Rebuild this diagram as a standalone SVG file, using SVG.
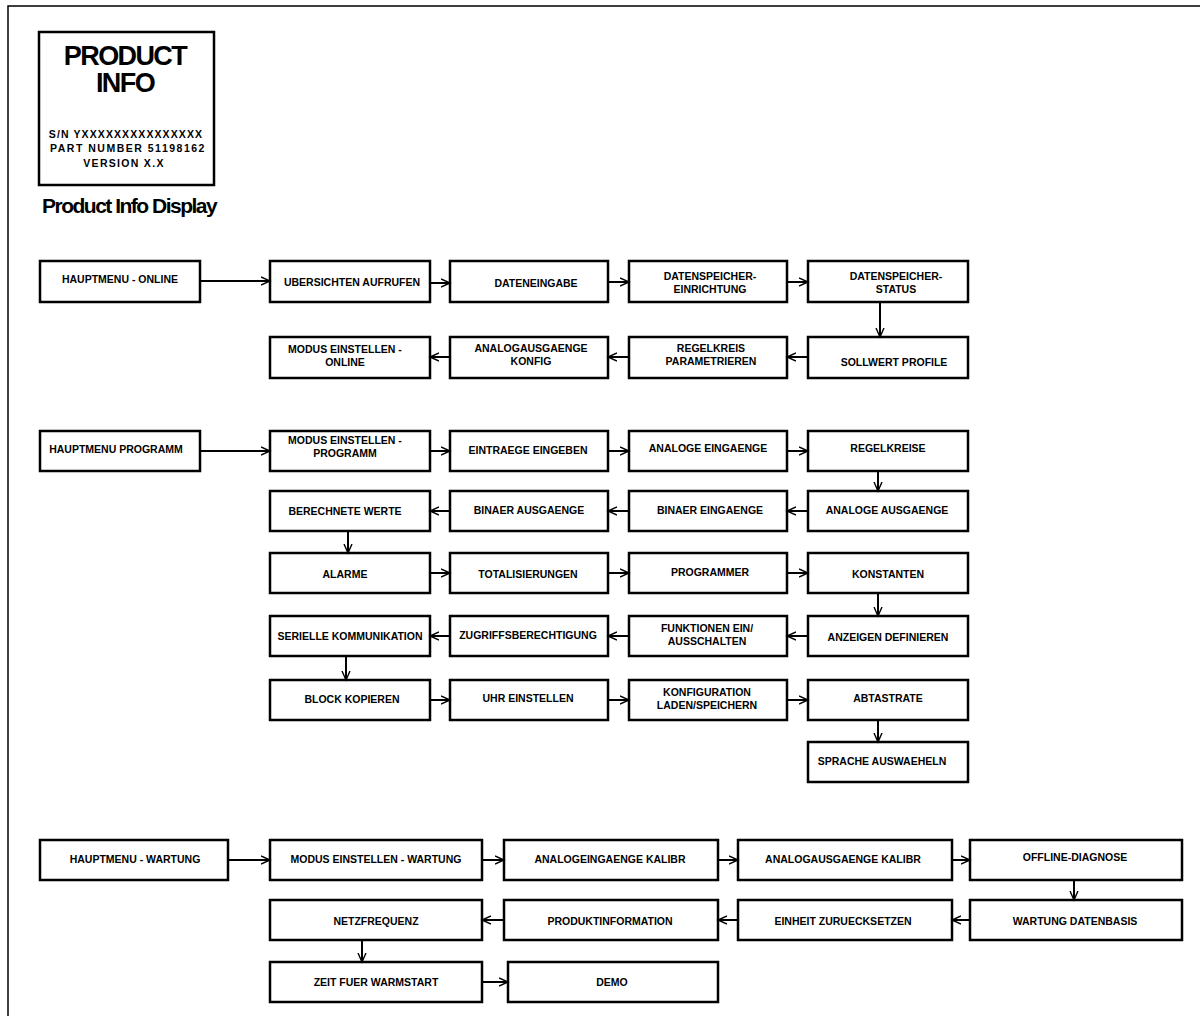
<svg xmlns="http://www.w3.org/2000/svg" width="1200" height="1016" viewBox="0 0 1200 1016">
<defs>
<style>
.frame{fill:none;stroke:#000;stroke-width:1.5}
.box{fill:#fff;stroke:#000;stroke-width:2.5}
.lbl{font-family:"Liberation Sans",Arial,sans-serif;font-weight:bold;font-size:10.5px;text-anchor:middle;fill:#000}
.conn line{stroke:#000;stroke-width:2;fill:none;marker-end:url(#ah)}
.title{font-family:"Liberation Sans",Arial,sans-serif;font-weight:bold;fill:#000}
</style>
<marker id="ah" markerWidth="11" markerHeight="11" refX="9" refY="5" orient="auto" markerUnits="userSpaceOnUse">
<path d="M0,1 L9,5 L0,9" fill="none" stroke="#000" stroke-width="1.4"/>
</marker>
</defs>
<rect width="1200" height="1016" fill="#fff"/>
<rect class="frame" x="8" y="6" width="1200" height="1020"/>

<g id="product-info">
<rect class="box" x="39" y="32" width="175" height="153" stroke-width="2"/>
<text class="title" x="125" y="65" font-size="27" letter-spacing="-1.6" text-anchor="middle">PRODUCT</text>
<text class="title" x="125" y="92" font-size="27" letter-spacing="-1.6" text-anchor="middle">INFO</text>
<text class="title" x="126" y="138" font-size="10.5" letter-spacing="1.1" text-anchor="middle">S/N YXXXXXXXXXXXXXXX</text>
<text class="title" x="128" y="152" font-size="10.5" letter-spacing="1.5" text-anchor="middle">PART NUMBER 51198162</text>
<text class="title" x="124" y="167" font-size="10.5" letter-spacing="1.3" text-anchor="middle">VERSION X.X</text>
</g>
<text id="product-info-caption" class="title" x="42" y="213" font-size="21" letter-spacing="-1.5">Product Info Display</text>

<!-- Section 1 -->
<g id="n-hauptmenu-online"><rect class="box" x="40" y="261" width="160" height="41"/><text class="lbl" x="120" y="283">HAUPTMENU - ONLINE</text></g>
<g id="n-uebersichten"><rect class="box" x="270" y="261" width="160" height="41"/><text class="lbl" x="352" y="286">UBERSICHTEN AUFRUFEN</text></g>
<g id="n-dateneingabe"><rect class="box" x="450" y="261" width="158" height="41"/><text class="lbl" x="536" y="287">DATENEINGABE</text></g>
<g id="n-ds-einrichtung"><rect class="box" x="629" y="261" width="158" height="41"/><text class="lbl" x="710" y="280">DATENSPEICHER-</text><text class="lbl" x="710" y="293">EINRICHTUNG</text></g>
<g id="n-ds-status"><rect class="box" x="808" y="261" width="160" height="41"/><text class="lbl" x="896" y="280">DATENSPEICHER-</text><text class="lbl" x="896" y="293">STATUS</text></g>
<g id="n-sollwert"><rect class="box" x="808" y="337" width="160" height="41"/><text class="lbl" x="894" y="366">SOLLWERT PROFILE</text></g>
<g id="n-regelkreis-param"><rect class="box" x="629" y="337" width="158" height="41"/><text class="lbl" x="711" y="352">REGELKREIS</text><text class="lbl" x="711" y="365">PARAMETRIEREN</text></g>
<g id="n-analogausg-konfig"><rect class="box" x="450" y="337" width="158" height="41"/><text class="lbl" x="531" y="352">ANALOGAUSGAENGE</text><text class="lbl" x="531" y="365">KONFIG</text></g>
<g id="n-modus-online"><rect class="box" x="270" y="337" width="160" height="41"/><text class="lbl" x="345" y="353">MODUS EINSTELLEN -</text><text class="lbl" x="345" y="366">ONLINE</text></g>

<!-- Section 2 -->
<g id="n-hauptmenu-programm"><rect class="box" x="40" y="431" width="160" height="40"/><text class="lbl" x="116" y="453">HAUPTMENU PROGRAMM</text></g>
<g id="n-modus-programm"><rect class="box" x="270" y="431" width="160" height="40"/><text class="lbl" x="345" y="444">MODUS EINSTELLEN -</text><text class="lbl" x="345" y="457">PROGRAMM</text></g>
<g id="n-eintraege"><rect class="box" x="450" y="431" width="158" height="40"/><text class="lbl" x="528" y="454">EINTRAEGE EINGEBEN</text></g>
<g id="n-analoge-eing"><rect class="box" x="629" y="431" width="158" height="40"/><text class="lbl" x="708" y="452">ANALOGE EINGAENGE</text></g>
<g id="n-regelkreise"><rect class="box" x="808" y="431" width="160" height="40"/><text class="lbl" x="888" y="452">REGELKREISE</text></g>
<g id="n-berechnete"><rect class="box" x="270" y="491" width="160" height="40"/><text class="lbl" x="345" y="515">BERECHNETE WERTE</text></g>
<g id="n-binaer-ausg"><rect class="box" x="450" y="491" width="158" height="40"/><text class="lbl" x="529" y="514">BINAER AUSGAENGE</text></g>
<g id="n-binaer-eing"><rect class="box" x="629" y="491" width="158" height="40"/><text class="lbl" x="710" y="514">BINAER EINGAENGE</text></g>
<g id="n-analoge-ausg"><rect class="box" x="808" y="491" width="160" height="40"/><text class="lbl" x="887" y="514">ANALOGE AUSGAENGE</text></g>
<g id="n-alarme"><rect class="box" x="270" y="553" width="160" height="40"/><text class="lbl" x="345" y="578">ALARME</text></g>
<g id="n-totalisierungen"><rect class="box" x="450" y="553" width="158" height="40"/><text class="lbl" x="528" y="578">TOTALISIERUNGEN</text></g>
<g id="n-programmer"><rect class="box" x="629" y="553" width="158" height="40"/><text class="lbl" x="710" y="576">PROGRAMMER</text></g>
<g id="n-konstanten"><rect class="box" x="808" y="553" width="160" height="40"/><text class="lbl" x="888" y="578">KONSTANTEN</text></g>
<g id="n-seriell"><rect class="box" x="270" y="616" width="160" height="40"/><text class="lbl" x="350" y="640">SERIELLE KOMMUNIKATION</text></g>
<g id="n-zugriff"><rect class="box" x="450" y="616" width="158" height="40"/><text class="lbl" x="528" y="639">ZUGRIFFSBERECHTIGUNG</text></g>
<g id="n-funktionen"><rect class="box" x="629" y="616" width="158" height="40"/><text class="lbl" x="707" y="632">FUNKTIONEN EIN/</text><text class="lbl" x="707" y="645">AUSSCHALTEN</text></g>
<g id="n-anzeigen"><rect class="box" x="808" y="616" width="160" height="40"/><text class="lbl" x="888" y="641">ANZEIGEN DEFINIEREN</text></g>
<g id="n-block"><rect class="box" x="270" y="680" width="160" height="40"/><text class="lbl" x="352" y="703">BLOCK KOPIEREN</text></g>
<g id="n-uhr"><rect class="box" x="450" y="680" width="158" height="40"/><text class="lbl" x="528" y="702">UHR EINSTELLEN</text></g>
<g id="n-konfiguration"><rect class="box" x="629" y="680" width="158" height="40"/><text class="lbl" x="707" y="696">KONFIGURATION</text><text class="lbl" x="707" y="709">LADEN/SPEICHERN</text></g>
<g id="n-abtastrate"><rect class="box" x="808" y="680" width="160" height="40"/><text class="lbl" x="888" y="702">ABTASTRATE</text></g>
<g id="n-sprache"><rect class="box" x="808" y="742" width="160" height="40"/><text class="lbl" x="882" y="765">SPRACHE AUSWAEHELN</text></g>

<!-- Section 3 -->
<g id="n-hauptmenu-wartung"><rect class="box" x="40" y="840" width="188" height="40"/><text class="lbl" x="135" y="863">HAUPTMENU - WARTUNG</text></g>
<g id="n-modus-wartung"><rect class="box" x="270" y="840" width="212" height="40"/><text class="lbl" x="376" y="863">MODUS EINSTELLEN - WARTUNG</text></g>
<g id="n-analogeing-kalibr"><rect class="box" x="504" y="840" width="214" height="40"/><text class="lbl" x="610" y="863">ANALOGEINGAENGE KALIBR</text></g>
<g id="n-analogausg-kalibr"><rect class="box" x="738" y="840" width="214" height="40"/><text class="lbl" x="843" y="863">ANALOGAUSGAENGE KALIBR</text></g>
<g id="n-offline"><rect class="box" x="970" y="840" width="212" height="40"/><text class="lbl" x="1075" y="861">OFFLINE-DIAGNOSE</text></g>
<g id="n-netzfrequenz"><rect class="box" x="270" y="900" width="212" height="40"/><text class="lbl" x="376" y="925">NETZFREQUENZ</text></g>
<g id="n-produktinfo"><rect class="box" x="504" y="900" width="214" height="40"/><text class="lbl" x="610" y="925">PRODUKTINFORMATION</text></g>
<g id="n-einheit"><rect class="box" x="738" y="900" width="214" height="40"/><text class="lbl" x="843" y="925">EINHEIT ZURUECKSETZEN</text></g>
<g id="n-wartung-db"><rect class="box" x="970" y="900" width="212" height="40"/><text class="lbl" x="1075" y="925">WARTUNG DATENBASIS</text></g>
<g id="n-zeit"><rect class="box" x="270" y="962" width="212" height="40"/><text class="lbl" x="376" y="986">ZEIT FUER WARMSTART</text></g>
<g id="n-demo"><rect class="box" x="508" y="962" width="210" height="40"/><text class="lbl" x="612" y="986">DEMO</text></g>

<g id="connectors" class="conn">
<line x1="200" y1="281" x2="270" y2="281"/>
<line x1="430" y1="283" x2="450" y2="283"/>
<line x1="608" y1="282" x2="629" y2="282"/>
<line x1="787" y1="282" x2="808" y2="282"/>
<line x1="880" y1="302" x2="880" y2="337"/>
<line x1="808" y1="357" x2="787" y2="357"/>
<line x1="629" y1="357" x2="608" y2="357"/>
<line x1="450" y1="357" x2="430" y2="357"/>

<line x1="200" y1="451" x2="270" y2="451"/>
<line x1="430" y1="451" x2="450" y2="451"/>
<line x1="608" y1="451" x2="629" y2="451"/>
<line x1="787" y1="451" x2="808" y2="451"/>
<line x1="878" y1="471" x2="878" y2="491"/>
<line x1="808" y1="511" x2="787" y2="511"/>
<line x1="629" y1="511" x2="608" y2="511"/>
<line x1="450" y1="511" x2="430" y2="511"/>
<line x1="348" y1="531" x2="348" y2="553"/>
<line x1="430" y1="573" x2="450" y2="573"/>
<line x1="608" y1="573" x2="629" y2="573"/>
<line x1="787" y1="573" x2="808" y2="573"/>
<line x1="878" y1="593" x2="878" y2="616"/>
<line x1="808" y1="636" x2="787" y2="636"/>
<line x1="629" y1="636" x2="608" y2="636"/>
<line x1="450" y1="636" x2="430" y2="636"/>
<line x1="346" y1="656" x2="346" y2="680"/>
<line x1="430" y1="700" x2="450" y2="700"/>
<line x1="608" y1="700" x2="629" y2="700"/>
<line x1="787" y1="700" x2="808" y2="700"/>
<line x1="878" y1="720" x2="878" y2="742"/>

<line x1="228" y1="860" x2="270" y2="860"/>
<line x1="482" y1="860" x2="504" y2="860"/>
<line x1="718" y1="860" x2="738" y2="860"/>
<line x1="952" y1="860" x2="970" y2="860"/>
<line x1="1074" y1="880" x2="1074" y2="900"/>
<line x1="970" y1="920" x2="952" y2="920"/>
<line x1="738" y1="920" x2="718" y2="920"/>
<line x1="504" y1="920" x2="482" y2="920"/>
<line x1="362" y1="940" x2="362" y2="962"/>
<line x1="482" y1="982" x2="508" y2="982"/>
</g>
</svg>
